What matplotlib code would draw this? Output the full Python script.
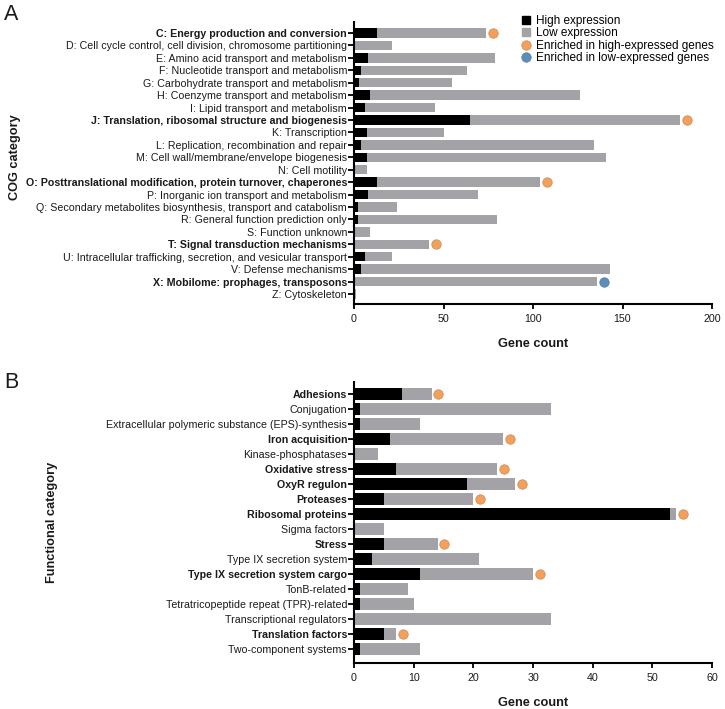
import matplotlib
matplotlib.use('Agg')
import matplotlib.pyplot as plt
from matplotlib.lines import Line2D

plt.rcParams['font.family'] = ['Liberation Sans', 'DejaVu Sans']
plt.rcParams['font.size'] = 7.7

# panel A: COG categories
cog_labels = [
    'C: Energy production and conversion',
    'D: Cell cycle control, cell division, chromosome partitioning',
    'E: Amino acid transport and metabolism',
    'F: Nucleotide transport and metabolism',
    'G: Carbohydrate transport and metabolism',
    'H: Coenzyme transport and metabolism',
    'I: Lipid transport and metabolism',
    'J: Translation, ribosomal structure and biogenesis',
    'K: Transcription',
    'L: Replication, recombination and repair',
    'M: Cell wall/membrane/envelope biogenesis',
    'N: Cell motility',
    'O: Posttranslational modification, protein turnover, chaperones',
    'P: Inorganic ion transport and metabolism',
    'Q: Secondary metabolites biosynthesis, transport and catabolism',
    'R: General function prediction only',
    'S: Function unknown',
    'T: Signal transduction mechanisms',
    'U: Intracellular trafficking, secretion, and vesicular transport',
    'V: Defense mechanisms',
    'X: Mobilome: prophages, transposons',
    'Z: Cytoskeleton',
]
cog_high = [13, 0, 8, 4, 3, 9, 6, 65, 7, 4, 7, 0, 13, 8, 2, 2, 0, 0, 6, 4, 0, 0]
cog_total = [74, 21, 79, 63, 55, 126, 45, 182, 50, 134, 141, 7, 104, 69, 24, 80, 9, 42, 21, 143, 136, 1]
cog_enriched = [None] * 22
cog_enriched[0] = 'high'
cog_enriched[7] = 'high'
cog_enriched[12] = 'high'
cog_enriched[17] = 'high'
cog_enriched[20] = 'low'

# panel B: functional categories
func_labels = [
    'Adhesions',
    'Conjugation',
    'Extracellular polymeric substance (EPS)-synthesis',
    'Iron acquisition',
    'Kinase-phosphatases',
    'Oxidative stress',
    'OxyR regulon',
    'Proteases',
    'Ribosomal proteins',
    'Sigma factors',
    'Stress',
    'Type IX secretion system',
    'Type IX secretion system cargo',
    'TonB-related',
    'Tetratricopeptide repeat (TPR)-related',
    'Transcriptional regulators',
    'Translation factors',
    'Two-component systems',
]
func_high = [8, 1, 1, 6, 0, 7, 19, 5, 53, 0, 5, 3, 11, 1, 1, 0, 5, 1]
func_total = [13, 33, 11, 25, 4, 24, 27, 20, 54, 5, 14, 21, 30, 9, 10, 33, 7, 11]
func_enriched = ['high', None, None, 'high', None, 'high', 'high', 'high', 'high',
                 None, 'high', None, 'high', None, None, None, 'high', None]

HIGH = '#000000'
LOW = '#a3a2a7'
ORANGE = '#f3a05c'
BLUE = '#5e8dba'
TXT = '#1a1a1a'


def draw_panel(ax, labels, high, total, enriched, xmax, xstep, height, ylabel):
    y = list(range(len(labels)))
    low = [t - h for t, h in zip(total, high)]
    ax.barh(y, high, height=height, color=HIGH)
    ax.barh(y, low, left=high, height=height, color=LOW)
    off = xmax * 0.019
    for i, e in enumerate(enriched):
        if e is None:
            continue
        c = ORANGE if e == 'high' else BLUE
        ax.plot(total[i] + off, i, 'o', ms=6.8, mfc=c, mec='#c98a50' if e == 'high' else '#4d7aa5',
                mew=0.5, clip_on=False)
    ax.set_yticks(y)
    ax.set_yticklabels(labels, color=TXT)
    for lab, e in zip(ax.get_yticklabels(), enriched):
        if e is not None:
            lab.set_fontweight('bold')
    ax.set_xlim(0, xmax)
    ax.set_xticks(range(0, xmax + 1, xstep))
    ax.spines['top'].set_visible(False)
    ax.spines['right'].set_visible(False)
    ax.spines['left'].set_linewidth(1.5)
    ax.spines['bottom'].set_linewidth(1.5)
    ax.tick_params(axis='both', width=1.3, length=3.5, colors='black', labelcolor=TXT, labelsize=7.7)
    ax.tick_params(axis='y', pad=1, length=4)
    ax.set_xlabel('Gene count', fontweight='bold', fontsize=9.2, labelpad=10, color=TXT)
    ax.set_ylabel(ylabel, fontweight='bold', fontsize=9.2, color=TXT)


fig = plt.figure(figsize=(7.25, 7.09), dpi=100)

axA = fig.add_axes([354 / 725, 1 - 304 / 709, 358 / 725, 282 / 709])
draw_panel(axA, cog_labels, cog_high, cog_total, cog_enriched, 200, 50, 0.76, 'COG category')
axA.set_ylim(21.8, -0.88)
axA.yaxis.set_label_coords(-0.93, 0.52)

axB = fig.add_axes([354 / 725, 1 - 663 / 709, 358 / 725, 281 / 709])
draw_panel(axB, func_labels, func_high, func_total, func_enriched, 60, 10, 0.78, 'Functional category')
axB.set_ylim(17.93, -0.8)
axB.yaxis.set_label_coords(-0.827, 0.5)

fig.text(4 / 725, 1 - 15 / 709, 'A', fontsize=15.5, va='center', ha='left', color=TXT)
fig.text(4 / 725, 1 - 382 / 709, 'B', fontsize=15.5, va='center', ha='left', color=TXT)

handles = [
    Line2D([], [], ls='', marker='s', ms=6, mfc=HIGH, mec=HIGH),
    Line2D([], [], ls='', marker='s', ms=6, mfc=LOW, mec=LOW),
    Line2D([], [], ls='', marker='o', ms=6.8, mfc=ORANGE, mec='#c98a50', mew=0.5),
    Line2D([], [], ls='', marker='o', ms=6.8, mfc=BLUE, mec='#4d7aa5', mew=0.5),
]
names = ['High expression', 'Low expression',
         'Enriched in high-expressed genes', 'Enriched in low-expressed genes']
fig.legend(handles, names, loc='upper left', bbox_to_anchor=(521 / 725, 1 - 15 / 709),
           frameon=False, fontsize=8.5, handlelength=0.8, handletextpad=0.45,
           labelspacing=0.04, borderpad=0, borderaxespad=0)

fig.savefig('out.png', dpi=100)
